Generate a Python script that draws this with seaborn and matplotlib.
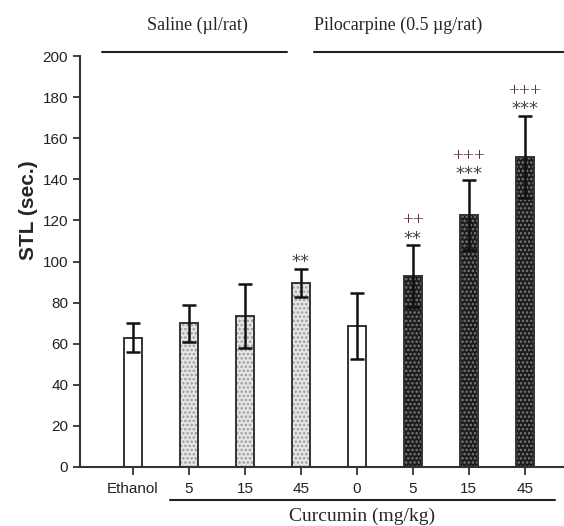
import matplotlib
matplotlib.use("Agg")
import matplotlib.pyplot as plt
import seaborn as sns
import pandas as pd
import numpy as np

# ---- data ----
keys = ["Ethanol", "S5", "S15", "S45", "P0", "P5", "P15", "P45"]
tick_labels = ["Ethanol", "5", "15", "45", "0", "5", "15", "45"]
groups = ["ctrl", "saline", "saline", "saline", "ctrl", "pilo", "pilo", "pilo"]
means = [63, 70, 73.5, 89.5, 68.5, 93, 122.5, 151]
sems = [7, 9, 15.5, 7, 16, 15, 17, 20]
stars = ["", "", "", "**", "", "**", "***", "***"]
plus = ["", "", "", "", "", "++", "+++", "+++"]
yticks = [0, 20, 40, 60, 80, 100, 120, 140, 160, 180, 200]

df = pd.DataFrame({"key": keys, "mean": means, "sem": sems, "group": groups})

sns.set_style("ticks")
plt.rcParams["font.family"] = ["Liberation Sans", "DejaVu Sans"]
plt.rcParams["hatch.linewidth"] = 1.2

fig = plt.figure(figsize=(5.64, 5.26), dpi=100)
ax = fig.add_axes([0.1418, 0.1122, 0.8582, 0.7813])

face = {"ctrl": "white", "saline": "#e6e6e6", "pilo": "#1c1c1c"}
hatchc = {"ctrl": "white", "saline": "#9a9a9a", "pilo": "#7a7a7a"}

# fill layer with hatch
sns.barplot(data=df, x="key", y="mean", order=keys, width=0.32, ax=ax,
            color="white", errorbar=None, linewidth=0)
for p, g in zip(ax.patches, groups):
    p.set_facecolor(face[g])
    p.set_edgecolor(hatchc[g])
    p.set_linewidth(0)
    if g != "ctrl":
        p.set_hatch("....")
# outline layer
sns.barplot(data=df, x="key", y="mean", order=keys, width=0.32, ax=ax,
            fill=False, errorbar=None, linewidth=1.4, edgecolor="#333333")

x = np.arange(len(keys))
ax.errorbar(x, means, yerr=sems, fmt="none", ecolor="#111111",
            elinewidth=1.8, capsize=5, capthick=1.8, zorder=5)

for i in range(len(keys)):
    top = means[i] + sems[i]
    if stars[i]:
        ax.annotate(stars[i], xy=(i, top), xytext=(0, 1), textcoords="offset points",
                    ha="center", va="baseline", fontsize=13, color="#4a4038",
                    family="DejaVu Sans")
    if plus[i]:
        ax.annotate(plus[i], xy=(i, top), xytext=(0, 14), textcoords="offset points",
                    ha="center", va="baseline", fontsize=14, color="#5a3848",
                    family="Liberation Serif")

ax.set_xlim(-0.946, 7.7)
ax.set_ylim(0, 200)
ax.set_yticks(yticks)
ax.set_yticklabels([str(v) for v in yticks], fontsize=11, color="#222222")
ax.set_xticks(x)
ax.set_xticklabels(tick_labels, fontsize=11, color="#222222")
ax.set_xlabel("")
ax.set_ylabel("STL (sec.)", fontsize=15, fontweight="bold")
ax.yaxis.set_label_coords(-0.087, 0.625)
ax.tick_params(axis="both", direction="out", length=5, width=1.3, color="#333333")
ax.tick_params(axis="x", length=6, pad=5)
for s in ["top", "right"]:
    ax.spines[s].set_visible(False)
for s in ["left", "bottom"]:
    ax.spines[s].set_linewidth(1.5)
    ax.spines[s].set_color("#333333")

# group headers and bottom label
serif = ["Liberation Serif", "DejaVu Serif"]
ax.plot([-0.55, 2.75], [202, 202], color="#222222", lw=1.5, clip_on=False)
ax.plot([3.23, 7.7], [202, 202], color="#222222", lw=1.5, clip_on=False)
ax.text(1.16, 215, "Saline (\u00b5l/rat)", ha="center", va="center", fontsize=13,
        family=serif, clip_on=False)
ax.text(4.73, 215, "Pilocarpine (0.5 \u00b5g/rat)", ha="center", va="center",
        fontsize=13, family=serif, clip_on=False)
ax.plot([0.66, 7.54], [-16, -16], color="#222222", lw=1.5, clip_on=False)
ax.text(4.09, -24.2, "Curcumin (mg/kg)", ha="center", va="center", fontsize=14,
        family=serif, clip_on=False)

fig.savefig("out.png", dpi=100)
